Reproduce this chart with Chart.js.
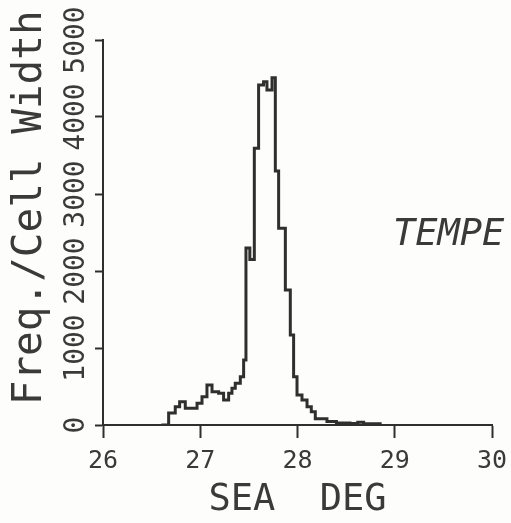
<!DOCTYPE html>
<html>
<head>
<meta charset="utf-8">
<script src="https://cdn.jsdelivr.net/npm/chart.js@4/dist/chart.umd.min.js"></script>
<style>
  body { margin: 0; background: #fdfdfb; }
  #wrap { width: 511px; height: 523px; }
</style>
</head>
<body>
<div id="wrap"><canvas id="myChart" width="511" height="523"></canvas></div>
<script>
// -------- Data --------
// left edge of each step (deg) and the height of the step from there on
const binEdges = [26.60, 26.675, 26.743, 26.788, 26.846, 26.967, 27.018, 27.069, 27.121, 27.189,
                  27.240, 27.292, 27.326, 27.360, 27.412, 27.446, 27.470, 27.510, 27.556, 27.600,
                  27.651, 27.686, 27.738, 27.772, 27.806, 27.875, 27.926, 27.960, 27.995, 28.046,
                  28.098, 28.142, 28.183, 28.303, 28.40, 28.54, 28.62, 28.68, 28.85];
const freq = [0, 155, 238, 303, 216, 281, 368, 519, 433, 411,
              325, 411, 476, 541, 627, 844, 2300, 2150, 3593, 4416,
              4459, 4350, 4510, 3300, 2554, 1753, 1169, 627, 390, 325,
              238, 173, 80, 45, 25, 20, 35, 15, 0];

const xTicks = [26, 27, 28, 29, 30];
const yTicks = [0, 1000, 2000, 3000, 4000, 5000];
const xTitle = 'SEA  DEG';
const yTitle = '  Freq./Cell Width';   // leading blanks push the text up the axis
const stray = 'TEMPE';

const ink = '#2f2f2f';
const textInk = '#3a3a3a';
const mono = 'DejaVu Sans Mono';

// -------- bleed-through label on the right --------
const strayText = {
  id: 'strayText',
  afterDraw(chart) {
    const ctx = chart.ctx;
    ctx.save();
    ctx.font = 'italic 37px "' + mono + '"';
    ctx.fillStyle = textInk;
    ctx.textBaseline = 'alphabetic';
    ctx.fillText(stray, 393, 245);
    ctx.restore();
  }
};

const ctx = document.getElementById('myChart').getContext('2d');

new Chart(ctx, {
  type: 'line',
  data: {
    datasets: [{
      data: binEdges.map((x, i) => ({ x: x, y: freq[i] })),
      stepped: 'before',
      borderColor: ink,
      borderWidth: 3,
      pointRadius: 0,
      fill: false
    }]
  },
  options: {
    responsive: false,
    animation: false,
    layout: { padding: { left: 6, top: 40, right: 19, bottom: 0 } },
    plugins: { legend: { display: false }, tooltip: { enabled: false } },
    scales: {
      x: {
        type: 'linear',
        min: 26, max: 30,
        afterBuildTicks: s => { s.ticks = xTicks.map(v => ({ value: v })); },
        ticks: { color: textInk, font: { family: mono, size: 25 }, padding: 8, maxRotation: 0,
                 callback: v => String(v) },
        grid: { drawOnChartArea: false, tickLength: 13, tickWidth: 2, tickColor: ink },
        border: { display: true, color: ink, width: 2 },
        title: { display: true, text: xTitle, color: textInk, font: { family: mono, size: 37 }, padding: 0 },
        afterFit: s => { s.height = 98; s.paddingLeft = 0; s.paddingRight = 0; }
      },
      y: {
        min: 0, max: 5000,
        afterBuildTicks: s => { s.ticks = yTicks.map(v => ({ value: v })); },
        ticks: {
          color: textInk, font: { family: mono, size: 28 },
          minRotation: 90, maxRotation: 90, crossAlign: 'center', padding: -15, autoSkip: false,
          callback: v => String(v)
        },
        grid: { drawOnChartArea: false, tickLength: 8, tickWidth: 2, tickColor: ink },
        border: { display: true, color: ink, width: 2 },
        title: { display: true, text: yTitle, color: textInk, font: { family: mono, size: 41 }, padding: 0 },
        afterFit: s => { s.width = 97; }
      }
    }
  },
  plugins: [strayText]
});
</script>
</body>
</html>
